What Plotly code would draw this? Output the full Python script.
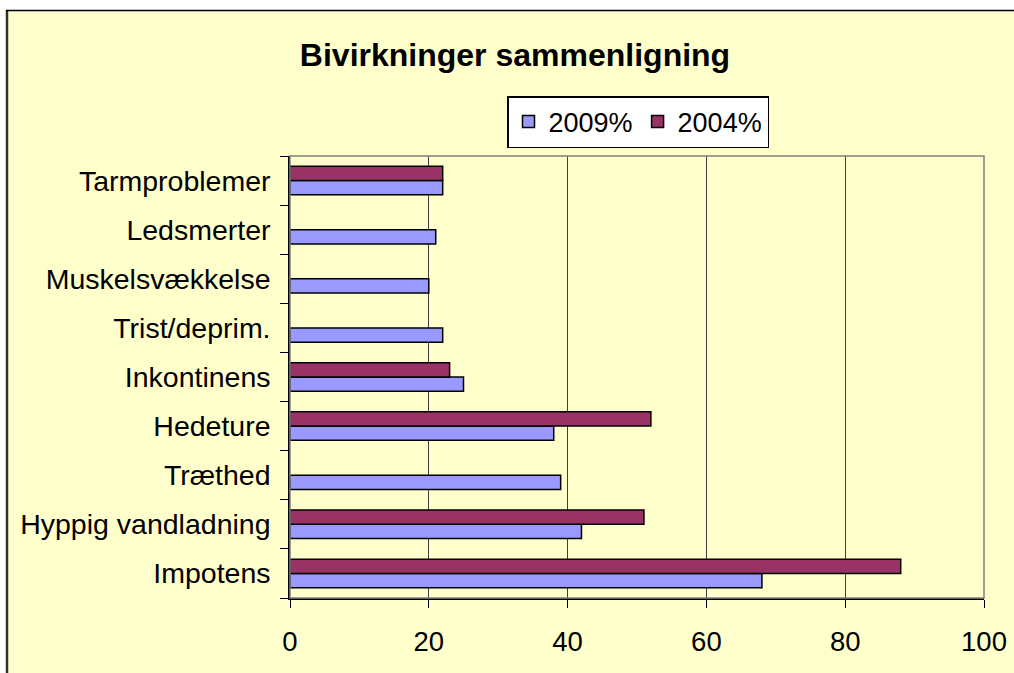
import plotly.graph_objects as go

categories = ["Impotens", "Hyppig vandladning", "Træthed", "Hedeture", "Inkontinens",
              "Trist/deprim.", "Muskelsvækkelse", "Ledsmerter", "Tarmproblemer"]
values_2009 = [68, 42, 39, 38, 25, 22, 20, 21, 22]
values_2004 = [88, 51, None, 52, 23, None, None, None, 22]
x_ticks = [0, 20, 40, 60, 80, 100]

FONT = "Arial, 'Liberation Sans', sans-serif"

fig = go.Figure()
fig.add_trace(go.Bar(
    y=categories, x=values_2009, name="2009%", orientation="h",
    marker=dict(color="#9999FF", line=dict(color="#000000", width=1.5)),
))
fig.add_trace(go.Bar(
    y=categories, x=values_2004, name="2004%", orientation="h",
    marker=dict(color="#993366", line=dict(color="#000000", width=1.5)),
))

W, H = 1014, 673
L, R, T, B = 290, 30, 156, 75
pw, ph = W - L - R, H - T - B

def px_x(p):
    return (p - L) / pw

def px_y(p):
    return (H - B - p) / ph

shapes = [
    # yellow chart area
    dict(type="rect", xref="paper", yref="paper",
         x0=px_x(7), x1=px_x(1014), y0=px_y(673), y1=px_y(11),
         fillcolor="#FFFFCC", line=dict(width=0), layer="below"),
    # chart area left and top borders
    dict(type="line", xref="paper", yref="paper",
         x0=px_x(7), x1=px_x(7), y0=px_y(673), y1=px_y(10),
         line=dict(color="#303030", width=2.5), layer="below"),
    dict(type="line", xref="paper", yref="paper",
         x0=px_x(6), x1=px_x(1014), y0=px_y(10.5), y1=px_y(10.5),
         line=dict(color="#000000", width=1.5), layer="below"),
    # plot area border
    dict(type="rect", xref="paper", yref="paper", x0=0, x1=1, y0=0, y1=1,
         line=dict(color="#808080", width=1.5), layer="above"),
]

fig.update_layout(
    width=W, height=H,
    margin=dict(l=L, r=R, t=T, b=B, autoexpand=False),
    paper_bgcolor="#FFFFFF",
    plot_bgcolor="#C0C0C0",
    barmode="group",
    bargap=0.42,
    bargroupgap=0,
    font=dict(family=FONT, color="#000000"),
    title=dict(text="<b>Bivirkninger sammenligning</b>", x=515 / W, xanchor="center",
               y=1 - 55 / H, yanchor="middle", xref="container", yref="container",
               font=dict(family=FONT, size=32, color="#000000")),
    legend=dict(orientation="h", x=px_x(638), xanchor="center", y=px_y(96), yanchor="top",
                bgcolor="#FFFFFF", bordercolor="#000000", borderwidth=1.5,
                font=dict(family=FONT, size=27), itemwidth=30,
                tracegroupgap=0, traceorder="normal"),
    shapes=shapes,
    xaxis=dict(range=[0, 100], tickvals=x_ticks, ticktext=[str(v) for v in x_ticks],
               showgrid=True, gridcolor="#404040", gridwidth=1.2,
               showline=True, linecolor="#000000", linewidth=1.5,
               ticks="outside", ticklen=8, tickcolor="#000000", tickwidth=1.2,
               ticklabelstandoff=10, automargin=False,
               tickfont=dict(family=FONT, size=27.5), zeroline=False, fixedrange=True),
    yaxis=dict(type="category", categoryorder="array", categoryarray=categories,
               showgrid=False, showline=True, linecolor="#000000", linewidth=1.5,
               ticks="outside", tickson="boundaries", ticklen=8, tickcolor="#000000",
               tickwidth=1.2, ticklabelstandoff=12, automargin=False,
               tickfont=dict(family=FONT, size=28.5), fixedrange=True),
)

fig.write_html("out.html", config={"displayModeBar": False},
               post_script="document.body.style.margin='0';document.body.style.overflow='hidden';")
